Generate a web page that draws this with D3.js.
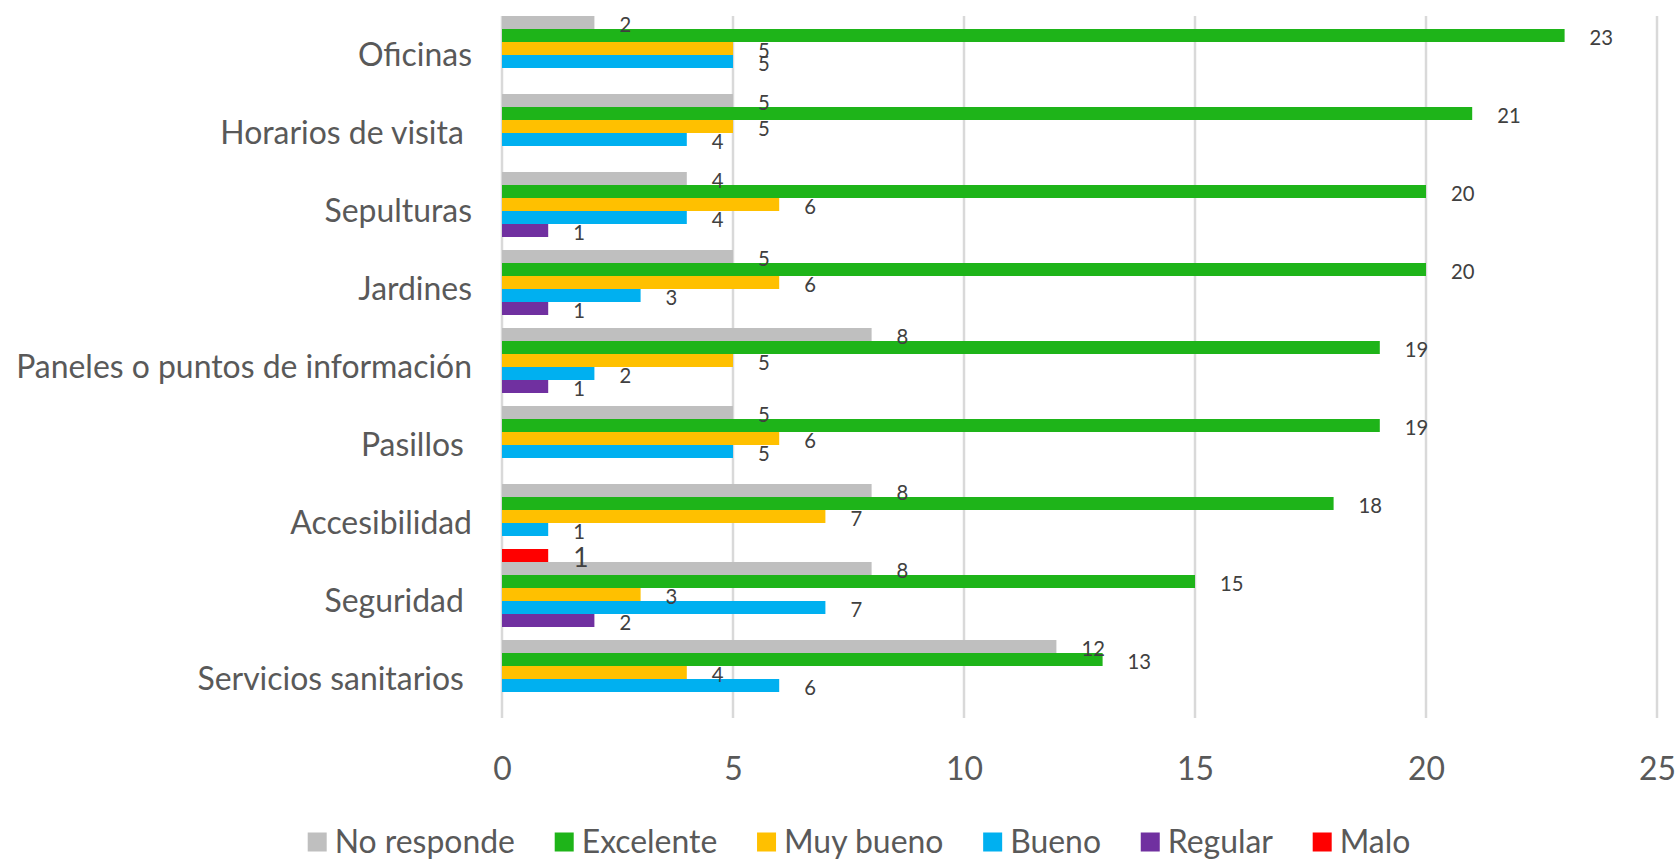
<!DOCTYPE html>
<html>
<head>
<meta charset="utf-8">
<script src="https://cdn.jsdelivr.net/npm/d3@7"></script>
<style>
  html, body { margin: 0; padding: 0; background: #ffffff; }
  svg { display: block; }
  text { font-family: Lato, "Open Sans", sans-serif; }
</style>
</head>
<body>
<svg id="chart" width="1680" height="864"></svg>
<script>
// ---------------- data ----------------
const categories = [
  "Oficinas",
  "Horarios de visita ",
  "Sepulturas",
  "Jardines",
  "Paneles o puntos de información",
  "Pasillos ",
  "Accesibilidad",
  "Seguridad ",
  "Servicios sanitarios "
];
const seriesNames = ["No responde", "Excelente", "Muy bueno", "Bueno", "Regular", "Malo"];
const noResponde = [2, 5, 4, 5, 8, 5, 8, 8, 12];
const excelente  = [23, 21, 20, 20, 19, 19, 18, 15, 13];
const muyBueno   = [5, 5, 6, 6, 5, 6, 7, 3, 4];
const bueno      = [5, 4, 4, 3, 2, 5, 1, 7, 6];
const regular    = [0, 0, 1, 1, 1, 0, 0, 2, 0];
const malo       = [0, 0, 0, 0, 0, 0, 1, 0, 0];
const xTicks     = [0, 5, 10, 15, 20, 25];
const seriesColors = ["#BFBFBF", "#1EB419", "#FFC000", "#00B0F0", "#7030A0", "#FF0000"];

const seriesValues = [noResponde, excelente, muyBueno, bueno, regular, malo];

// ---------------- layout ----------------
const W = 1680, H = 864;
const plot = { left: 502, right: 1657, top: 16, bottom: 718 };
const textColor = "#595959";
const labelColor = "#404040";
const gridColor = "#D9D9D9";

const svg = d3.select("#chart");
svg.append("rect").attr("width", W).attr("height", H).attr("fill", "#fff");

function measure(txt, size) {
  const t = svg.append("text").attr("font-size", size).attr("xml:space", "preserve").text(txt);
  const w = t.node().getComputedTextLength();
  t.remove();
  return w;
}
const catFont = 100 * 456 / measure("Paneles o puntos de información", 100);
const dataFont = 100 * 23.5 / measure("21", 100);

const x = d3.scaleLinear().domain([0, 25]).range([plot.left, plot.right]);
const y = d3.scaleBand().domain(categories).range([plot.top, plot.bottom]).padding(0);
const ys = d3.scaleBand().domain(seriesNames).range([0, y.bandwidth()]).padding(0);

// gridlines
svg.append("g").selectAll("line").data(xTicks).join("line")
  .attr("x1", d => x(d)).attr("x2", d => x(d))
  .attr("y1", plot.top).attr("y2", plot.bottom)
  .attr("stroke", gridColor).attr("stroke-width", 2.5);

// x axis labels
const xAxis = d3.axisBottom(x).tickValues(xTicks).tickSize(0).tickPadding(0);
const gx = svg.append("g").attr("transform", `translate(0,${plot.bottom})`).call(xAxis);
gx.select(".domain").remove();
gx.selectAll("text")
  .attr("font-size", catFont).attr("fill", textColor)
  .attr("font-family", "Lato, 'Open Sans', sans-serif")
  .attr("dy", null).attr("y", 62);

// category labels
svg.append("g").selectAll("text").data(categories).join("text")
  .attr("xml:space", "preserve")
  .style("white-space", "pre")
  .attr("x", plot.left - 30)
  .attr("y", d => y(d) + y.bandwidth() / 2)
  .attr("dy", "0.36em")
  .attr("text-anchor", "end")
  .attr("font-size", catFont)
  .attr("fill", textColor)
  .text(d => d);

// bars
const flat = [];
categories.forEach((c, i) => {
  seriesNames.forEach((s, j) => {
    flat.push({ cat: c, series: s, value: seriesValues[j][i], color: seriesColors[j] });
  });
});

svg.append("g").selectAll("rect").data(flat.filter(d => d.value > 0)).join("rect")
  .attr("x", x(0))
  .attr("y", d => y(d.cat) + ys(d.series))
  .attr("width", d => x(d.value) - x(0))
  .attr("height", ys.bandwidth())
  .attr("fill", d => d.color);

// data labels
svg.append("g").selectAll("text").data(flat.filter(d => d.value > 0)).join("text")
  .attr("x", d => x(d.value) + 25)
  .attr("y", d => y(d.cat) + ys(d.series) + ys.bandwidth() / 2 + 2.5)
  .attr("dy", "0.36em")
  .attr("font-size", d => d.series === "Malo" ? dataFont * 1.3 : dataFont)
  .attr("fill", labelColor)
  .text(d => d.value);

// legend
const legend = svg.append("g");
const sq = 19, sqGap = 8, legendCy = 842;
const legendStart = 307.7, legendLastSquare = 1312.7;
const widths = seriesNames.map(s => measure(s, catFont));
const itemGap = (legendLastSquare - legendStart - 5 * (sq + sqGap) - d3.sum(widths.slice(0, 5))) / 5;
let lx = legendStart;
seriesNames.forEach((s, j) => {
  legend.append("rect")
    .attr("x", lx).attr("y", legendCy - sq / 2)
    .attr("width", sq).attr("height", sq)
    .attr("fill", seriesColors[j]);
  legend.append("text")
    .attr("x", lx + sq + sqGap).attr("y", legendCy).attr("dy", "0.36em")
    .attr("font-size", catFont).attr("fill", textColor).text(s);
  lx += sq + sqGap + widths[j] + itemGap;
});
</script>
</body>
</html>
